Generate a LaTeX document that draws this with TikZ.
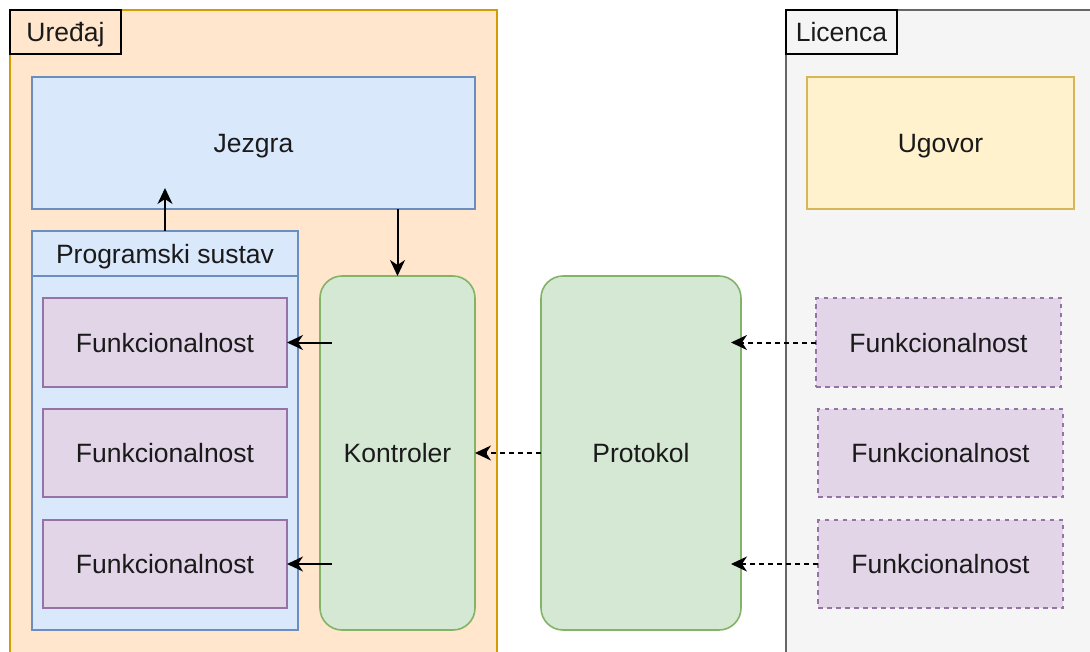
\documentclass[tikz,border=0pt]{standalone}
\usepackage{fontspec}
\setmainfont{Liberation Sans}
\usetikzlibrary{arrows.meta}
\definecolor{orfill}{HTML}{FFE6CC}
\definecolor{ordraw}{HTML}{D79B00}
\definecolor{blfill}{HTML}{DAE8FC}
\definecolor{bldraw}{HTML}{6C8EBF}
\definecolor{pufill}{HTML}{E1D5E7}
\definecolor{pudraw}{HTML}{9673A6}
\definecolor{grfill}{HTML}{D5E8D4}
\definecolor{grdraw}{HTML}{82B366}
\definecolor{yefill}{HTML}{FFF2CC}
\definecolor{yedraw}{HTML}{D6B656}
\definecolor{gyfill}{HTML}{F5F5F5}
\definecolor{gydraw}{HTML}{666666}
\definecolor{txt}{HTML}{1A1A1A}
\begin{document}
\begin{tikzpicture}[x=1pt,y=-1pt,
  every node/.style={inner sep=0pt,outer sep=0pt,line width=1.6pt,text=txt,text height=19pt,text depth=0pt,font=\fontsize{26.5}{30}\selectfont},
  box/.style={draw,rectangle},
  orange/.style={box,fill=orfill,draw=ordraw},
  blue/.style={box,fill=blfill,draw=bldraw},
  purple/.style={box,fill=pufill,draw=pudraw},
  purpled/.style={purple,dash pattern=on 4.5pt off 4.5pt},
  green/.style={box,fill=grfill,draw=grdraw,rounded corners=22pt},
  yellow/.style={box,fill=yefill,draw=yedraw},
  gray/.style={box,fill=gyfill,draw=gydraw},
  lbl/.style={box,draw=black,line width=2pt},
  arr/.style={line width=2pt,-{Stealth[length=16pt,width=15pt,inset=5pt]}},
  darr/.style={arr,dash pattern=on 5pt off 4pt}
]
\useasboundingbox (0,0) rectangle (1090,651);
\fill[white] (0,0) rectangle (1090,651);
% containers
\node[orange,minimum width=487pt,minimum height=655pt] (uredaj) at (253.5,337.5) {};
\node[lbl,minimum width=111pt,minimum height=44pt] (uredajlbl) at (65.5,32) {Uređaj};
\node[gray,minimum width=314pt,minimum height=655pt] (licenca) at (943,337.5) {};
\node[lbl,minimum width=111pt,minimum height=44pt] (licencalbl) at (841.5,32) {Licenca};
% Uredaj content
\node[blue,minimum width=443pt,minimum height=132pt] (jezgra) at (253.5,143) {Jezgra};
\node[blue,minimum width=266pt,minimum height=354pt] (progb) at (165,453) {};
\node[blue,minimum width=266pt,minimum height=45pt] (progh) at (165,253.5) {Programski sustav};
\node[purple,minimum width=244pt,minimum height=89pt] (f1) at (165,342.5) {Funkcionalnost};
\node[purple,minimum width=244pt,minimum height=88pt] (f2) at (165,453) {Funkcionalnost};
\node[purple,minimum width=244pt,minimum height=88pt] (f3) at (165,564) {Funkcionalnost};
\node[green,minimum width=155pt,minimum height=354pt] (kontroler) at (397.5,453) {Kontroler};
% Protokol
\node[green,minimum width=200pt,minimum height=354pt] (protokol) at (641,453) {Protokol};
% Licenca content
\node[yellow,minimum width=267pt,minimum height=132pt] (ugovor) at (940.5,143) {Ugovor};
\node[purpled,minimum width=245pt,minimum height=89pt] (g1) at (938.5,342.5) {Funkcionalnost};
\node[purpled,minimum width=245pt,minimum height=88pt] (g2) at (940.5,453) {Funkcionalnost};
\node[purpled,minimum width=245pt,minimum height=88pt] (g3) at (940.5,564) {Funkcionalnost};
% coordinates
\coordinate (jz) at (165,188);
\coordinate (k1) at (332,342.5);
\coordinate (k3) at (332,564);
\coordinate (p1) at (731,342.5);
\coordinate (p3) at (731,564);
% connectors
\draw[arr] (progh.north) -- (jz);
\draw[arr] (jezgra.south -| kontroler.north) -- (kontroler.north);
\draw[arr] (k1) -- (f1.east);
\draw[arr] (k3) -- (f3.east);
\draw[darr] (protokol.west) -- (kontroler.east);
\draw[darr] (g1.west) -- (p1);
\draw[darr] (g3.west) -- (p3);
\end{tikzpicture}
\end{document}
